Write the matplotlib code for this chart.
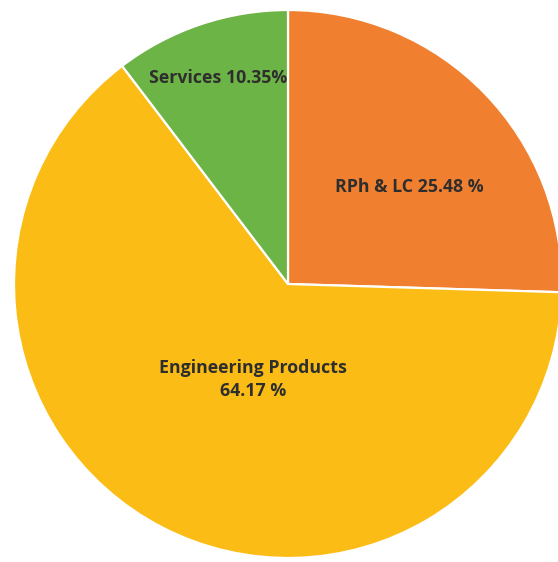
import matplotlib
matplotlib.use("Agg")
import matplotlib.pyplot as plt

# Revenue share by segment
segments = ["RPh & LC", "Engineering Products", "Services"]
shares = [25.48, 64.17, 10.35]
colors = ["#F08030", "#FBBD15", "#6DB446"]
label_text = ["RPh & LC 25.48 %", "Engineering Products\n64.17 %", "Services 10.35%"]
label_pos = [(0.443, 0.354), (-0.128, -0.35), (-0.255, 0.752)]

W, H = 558, 562
cx, cy, r = 288, 284, 274

fig = plt.figure(figsize=(W / 100, H / 100), dpi=100)
ax = fig.add_axes([0, 0, 1, 1])

ax.pie(shares, colors=colors, startangle=90, counterclock=False,
       radius=1.0, wedgeprops=dict(edgecolor="white", linewidth=1.6))

for txt, (x, y) in zip(label_text, label_pos):
    ax.text(x, y, txt, ha="center", va="center", fontsize=12.8,
            fontweight="bold", color="#2e2e2e", family="Open Sans",
            linespacing=1.35)

ax.set_aspect("auto")
ax.set_xlim(-cx / r, (W - cx) / r)
ax.set_ylim(-(H - cy) / r, cy / r)
ax.axis("off")

fig.savefig("out.png", dpi=100, facecolor="white")
